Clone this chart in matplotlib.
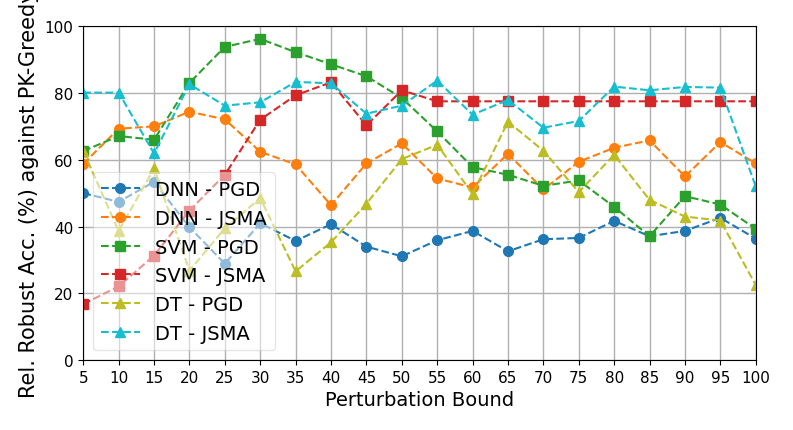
import matplotlib
matplotlib.use("Agg")
import matplotlib.pyplot as plt
import numpy as np

# perturbation bounds
bounds = [5, 10, 15, 20, 25, 30, 35, 40, 45, 50, 55, 60, 65, 70, 75, 80, 85, 90, 95, 100]

dnn_pgd = [50.0, 47.4, 53.4, 39.8, 28.9, 41.0, 35.7, 40.7, 34.0, 31.1,
           35.9, 38.7, 32.6, 36.2, 36.6, 41.7, 37.1, 38.7, 42.6, 36.4]
dnn_jsma = [58.8, 69.3, 70.0, 74.4, 72.1, 62.4, 58.6, 46.4, 58.9, 64.9,
            54.4, 51.7, 61.8, 51.1, 59.4, 63.6, 65.8, 55.0, 65.3, 58.9]
svm_pgd = [62.6, 67.1, 66.0, 83.0, 93.8, 96.2, 92.2, 88.6, 85.0, 78.5,
           68.5, 57.8, 55.5, 52.2, 53.8, 45.9, 37.1, 49.1, 46.6, 39.3]
svm_jsma = [16.8, 22.1, 31.3, 44.8, 55.5, 72.0, 79.3, 83.2, 70.3, 80.8,
            77.5, 77.5, 77.5, 77.5, 77.5, 77.5, 77.5, 77.5, 77.5, 77.5]
dt_pgd = [62.6, 38.7, 57.4, 26.8, 39.5, 48.5, 26.6, 35.3, 46.8, 60.2,
          64.5, 49.8, 71.4, 62.7, 50.3, 61.5, 48.0, 43.0, 41.8, 22.5]
dt_jsma = [80.1, 80.1, 61.9, 82.6, 76.2, 77.2, 83.3, 82.9, 73.8, 76.2,
           83.7, 73.5, 77.9, 69.6, 71.6, 81.9, 80.8, 81.8, 81.6, 52.0]

fig = plt.figure(figsize=(7.93, 4.31), dpi=100)
ax = fig.add_axes([0.105, 0.162, 0.848, 0.775])

ax.plot(bounds, dnn_pgd, '--o', color='tab:blue', markersize=7, label='DNN - PGD')
ax.plot(bounds, dnn_jsma, '--o', color='tab:orange', markersize=7, label='DNN - JSMA')
ax.plot(bounds, svm_pgd, '--s', color='tab:green', markersize=7, label='SVM - PGD')
ax.plot(bounds, svm_jsma, '--s', color='tab:red', markersize=7, label='SVM - JSMA')
ax.plot(bounds, dt_pgd, '--^', color='tab:olive', markersize=7, label='DT - PGD')
ax.plot(bounds, dt_jsma, '--^', color='tab:cyan', markersize=7, label='DT - JSMA')

ax.set_xlim(5, 100)
ax.set_ylim(0, 100)
ax.set_xticks(bounds)
ax.set_yticks([0, 20, 40, 60, 80, 100])
ax.tick_params(labelsize=11)
ax.grid(True, linewidth=1)
ax.set_xlabel('Perturbation Bound', fontsize=14)
ax.set_ylabel('Rel. Robust Acc. (%) against PK-Greedy', fontsize=15)
ax.legend(loc='lower left', fontsize=14, framealpha=0.5)

fig.savefig('out.png', dpi=100)
